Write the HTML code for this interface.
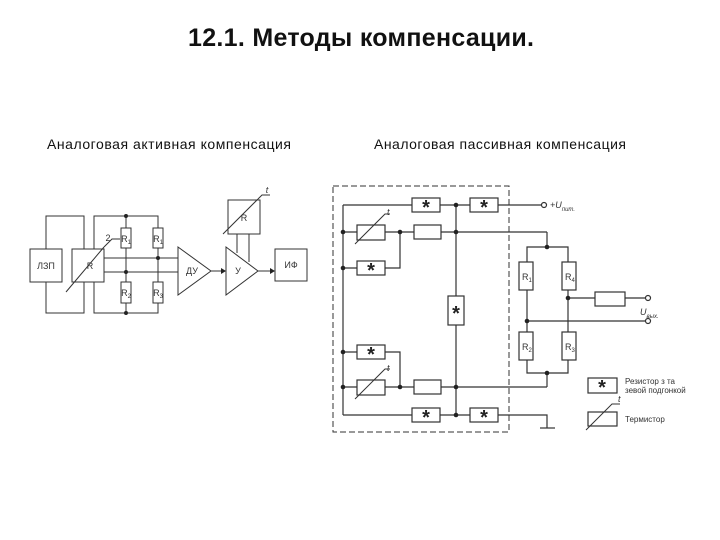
<!DOCTYPE html>
<html><head><meta charset="utf-8"><style>
body{margin:0;background:#fff;}
svg{display:block;font-family:"Liberation Sans",sans-serif;}
</style></head><body>
<svg width="720" height="540" viewBox="0 0 720 540" xmlns="http://www.w3.org/2000/svg">
<text x="361" y="46" font-size="25" font-weight="bold" text-anchor="middle" fill="#111" textLength="346">12.1. Методы компенсации.</text>
<text x="169" y="149" font-size="14" text-anchor="middle" fill="#111" textLength="244">Аналоговая активная компенсация</text>
<text x="500" y="149" font-size="14" text-anchor="middle" fill="#111" textLength="252">Аналоговая пассивная компенсация</text>

<g stroke="#333" stroke-width="1" fill="none">
<rect x="30" y="249" width="32" height="33" fill="#fff"/>
<rect x="72" y="249" width="32" height="33" fill="#fff"/>
<polyline points="46,249 46,216 84,216 84,249"/>
<polyline points="46,282 46,313 84,313 84,282"/>
<polyline points="94,249 94,216 158,216 158,228"/>
<polyline points="94,282 94,313 158,313 158,303"/>
<line x1="126" y1="216" x2="126" y2="313"/>
<line x1="158" y1="248" x2="158" y2="282"/>
<rect x="121" y="228" width="10" height="20" fill="#fff"/>
<rect x="153" y="228" width="10" height="20" fill="#fff"/>
<rect x="121" y="282" width="10" height="21" fill="#fff"/>
<rect x="153" y="282" width="10" height="21" fill="#fff"/>
<line x1="104" y1="258" x2="178" y2="258"/>
<line x1="104" y1="272" x2="178" y2="272"/>
<line x1="66" y1="292" x2="104" y2="247"/><polyline points="104,247 112,239 120,239"/>
<polygon points="178,247 211,271 178,295" fill="#fff"/>
<line x1="211" y1="271" x2="224" y2="271"/>
<polygon points="226,247 258,271 226,295" fill="#fff"/>
<line x1="258" y1="271" x2="273" y2="271"/>
<rect x="275" y="249" width="32" height="32" fill="#fff"/>
<rect x="228" y="200" width="32" height="34" fill="#fff"/>
<line x1="237" y1="234" x2="237" y2="253"/>
<line x1="249" y1="234" x2="249" y2="262"/>
<line x1="223" y1="234" x2="258" y2="199"/><polyline points="258,199 262,195 270,195"/>
</g>
<g fill="#222">
<circle cx="126" cy="216" r="2"/><circle cx="126" cy="272" r="2"/><circle cx="126" cy="313" r="2"/><circle cx="158" cy="258" r="2"/>
<polygon points="226,271 221,268 221,274"/><polygon points="275,271 270,268 270,274"/>
</g>
<g font-size="9" fill="#333" text-anchor="middle">
<text x="46" y="269">ЛЗП</text><text x="90" y="269">R</text>
<text x="126" y="242">R<tspan font-size="6" dy="2">1</tspan></text>
<text x="158" y="242">R<tspan font-size="6" dy="2">1</tspan></text>
<text x="126" y="296">R<tspan font-size="6" dy="2">2</tspan></text>
<text x="158" y="296">R<tspan font-size="6" dy="2">3</tspan></text>
<text x="192" y="274">ДУ</text><text x="238" y="274">У</text><text x="291" y="268">ИФ</text>
<text x="244" y="221">R</text><text x="108" y="241">2</text><text x="267" y="193" font-style="italic">t</text>
</g>

<rect x="333" y="186" width="176" height="246" fill="none" stroke="#333" stroke-dasharray="6,3"/>
<g stroke="#333" stroke-width="1.2" fill="none">
<line x1="343" y1="205" x2="343" y2="415"/>
<line x1="343" y1="205" x2="541" y2="205"/>
<line x1="343" y1="232" x2="547" y2="232"/><line x1="547" y1="232" x2="547" y2="247"/>
<polyline points="343,268 400,268 400,232"/>
<line x1="456" y1="205" x2="456" y2="415"/>
<polyline points="343,352 400,352 400,387"/>
<line x1="343" y1="387" x2="547" y2="387"/><line x1="547" y1="387" x2="547" y2="373"/>
<polyline points="343,415 547,415 547,428"/>
<line x1="540" y1="428" x2="555" y2="428"/>
<polyline points="527,262 527,247 568,247 568,262"/>
<polyline points="527,360 527,373 568,373 568,360"/>
<line x1="527" y1="290" x2="527" y2="332"/><line x1="568" y1="290" x2="568" y2="332"/>
<line x1="568" y1="298" x2="645" y2="298"/>
<line x1="527" y1="321" x2="645" y2="321"/>
</g>
<g stroke="#333" stroke-width="1.2" fill="#fff">
<rect x="412" y="198" width="28" height="14"/><rect x="470" y="198" width="28" height="14"/>
<rect x="357" y="225" width="28" height="15"/><rect x="414" y="225" width="27" height="14"/>
<rect x="357" y="261" width="28" height="14"/>
<rect x="448" y="296" width="16" height="29"/>
<rect x="357" y="345" width="28" height="14"/>
<rect x="357" y="380" width="28" height="15"/><rect x="414" y="380" width="27" height="14"/>
<rect x="412" y="408" width="28" height="14"/><rect x="470" y="408" width="28" height="14"/>
<rect x="519" y="262" width="14" height="28"/><rect x="562" y="262" width="14" height="28"/>
<rect x="519" y="332" width="14" height="28"/><rect x="562" y="332" width="14" height="28"/>
<rect x="595" y="292" width="30" height="14"/>
<rect x="588" y="378" width="29" height="15"/><rect x="588" y="412" width="29" height="14"/>
<circle cx="544" cy="205" r="2.5"/><circle cx="648" cy="298" r="2.5"/><circle cx="648" cy="321" r="2.5"/>
</g>
<g stroke="#333" stroke-width="1" fill="none">
<polyline points="355,244 385,214 390,214"/>
<polyline points="355,399 385,369 390,369"/>
<polyline points="586,430 612,404 620,404"/>
</g>
<g fill="#222">
<circle cx="456" cy="205" r="2.3"/><circle cx="343" cy="232" r="2.3"/><circle cx="400" cy="232" r="2.3"/><circle cx="456" cy="232" r="2.3"/>
<circle cx="343" cy="268" r="2.3"/><circle cx="343" cy="352" r="2.3"/><circle cx="343" cy="387" r="2.3"/><circle cx="400" cy="387" r="2.3"/>
<circle cx="456" cy="387" r="2.3"/><circle cx="456" cy="415" r="2.3"/>
<circle cx="547" cy="247" r="2.3"/><circle cx="547" cy="373" r="2.3"/><circle cx="568" cy="298" r="2.3"/><circle cx="527" cy="321" r="2.3"/>
</g>
<g font-size="20" font-weight="bold" fill="#222" text-anchor="middle">
<text x="426" y="214">*</text><text x="484" y="214">*</text><text x="371" y="277">*</text>
<text x="456" y="320">*</text><text x="371" y="361">*</text>
<text x="426" y="424">*</text><text x="484" y="424">*</text><text x="602" y="394">*</text>
</g>
<g font-size="9" fill="#333">
<text x="522" y="280">R<tspan font-size="6" dy="2">1</tspan></text>
<text x="565" y="280">R<tspan font-size="6" dy="2">4</tspan></text>
<text x="522" y="350">R<tspan font-size="6" dy="2">2</tspan></text>
<text x="565" y="350">R<tspan font-size="6" dy="2">3</tspan></text>
<text x="550" y="208" font-style="italic">+U<tspan font-size="6" dy="3">пит.</tspan></text>
<text x="640" y="315" font-style="italic">U<tspan font-size="6" dy="3">вых.</tspan></text>
<text x="387" y="215" font-style="italic">t</text><text x="387" y="371" font-style="italic">t</text><text x="618" y="402" font-style="italic">t</text>
<text x="625" y="384" font-size="8">Резистор з та</text>
<text x="625" y="393" font-size="8">зевой подгонкой</text>
<text x="625" y="422" font-size="8">Термистор</text>
</g>
</svg>
</body></html>
